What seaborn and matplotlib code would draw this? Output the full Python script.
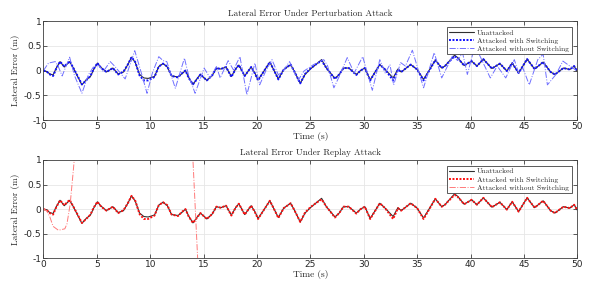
import numpy as np
import pandas as pd
import seaborn as sns
import matplotlib
matplotlib.use("Agg")
import matplotlib.pyplot as plt

# ---------------- data ----------------
t_ref = [0.0, 0.3, 0.6, 0.9, 1.2, 1.55, 1.95, 2.45, 2.8, 3.1, 3.6, 4.0, 4.4, 4.7, 5.05,
         5.4, 5.9, 6.5, 7.0, 7.5, 7.9, 8.25, 8.6, 9.0, 9.4, 9.8, 10.4, 10.8, 11.2, 11.6,
         12.0, 12.6, 13.0, 13.3, 13.6, 14.0, 14.4, 14.7, 15.3, 15.8, 16.2, 16.6, 17.1,
         17.6, 18.0, 18.3, 18.85, 19.45, 19.8, 20.1, 20.6, 21.2, 21.6, 22.0, 22.5, 23.15,
         23.5, 24.05, 24.5, 25.0, 25.5, 26.05, 26.5, 27.3, 27.7, 28.1, 28.6, 29.3, 29.7,
         30.1, 30.6, 31.5, 32.0, 32.75, 33.2, 33.5, 34.4, 35.0, 35.6, 36.7, 37.3, 37.6,
         38.5, 38.8, 39.4, 40.1, 40.6, 41.2, 42.0, 42.75, 43.4, 43.9, 44.5, 45.3, 46.0,
         46.8, 47.5, 47.9, 48.7, 49.3, 49.7, 50.0]
unattacked = [0.0, -0.02, -0.07, -0.09, 0.05, 0.18, 0.07, 0.18, 0.05, -0.08, -0.29, -0.19,
              -0.12, 0.02, 0.15, 0.06, -0.03, 0.05, -0.07, -0.03, 0.12, 0.27, 0.16, -0.08,
              -0.15, -0.16, -0.12, 0.08, 0.14, 0.07, -0.11, -0.13, -0.06, 0.0, -0.14, -0.28,
              -0.16, -0.08, -0.2, -0.1, 0.05, 0.03, 0.07, -0.12, 0.03, 0.11, -0.11, 0.07,
              -0.05, -0.19, -0.03, 0.17, 0.0, -0.17, 0.02, 0.12, -0.02, -0.26, -0.08, 0.03,
              0.12, 0.22, 0.05, -0.16, -0.08, 0.05, 0.05, -0.08, 0.0, 0.05, -0.19, 0.12,
              0.02, -0.15, 0.03, -0.03, 0.12, 0.02, -0.18, 0.21, 0.05, 0.09, 0.31, 0.26,
              0.1, 0.19, 0.09, 0.23, 0.04, 0.14, -0.01, 0.15, -0.05, 0.23, 0.03, 0.17,
              -0.03, -0.08, 0.05, 0.02, 0.09, -0.02]
with_switching = [0.0, -0.02, -0.08, -0.11, 0.04, 0.18, 0.08, 0.19, 0.05, -0.07, -0.28, -0.2,
                  -0.11, 0.03, 0.15, 0.05, -0.03, 0.05, -0.08, -0.02, 0.12, 0.27, 0.17, -0.1,
                  -0.2, -0.2, -0.13, 0.08, 0.14, 0.08, -0.11, -0.14, -0.05, 0.0, -0.15, -0.28,
                  -0.17, -0.08, -0.2, -0.1, 0.05, 0.03, 0.07, -0.13, 0.03, 0.11, -0.11, 0.07,
                  -0.06, -0.2, -0.03, 0.17, 0.0, -0.18, 0.02, 0.12, -0.02, -0.26, -0.07, 0.04,
                  0.12, 0.2, 0.05, -0.17, -0.08, 0.05, 0.05, -0.09, 0.0, 0.05, -0.2, 0.12,
                  0.02, -0.2, 0.02, -0.03, 0.12, 0.02, -0.2, 0.21, 0.05, 0.09, 0.29, 0.25,
                  0.1, 0.19, 0.09, 0.23, 0.04, 0.14, -0.01, 0.15, -0.05, 0.23, 0.03, 0.17,
                  -0.03, -0.08, 0.05, 0.02, 0.09, -0.02]

t_pert = [0.0, 0.47, 1.1, 1.35, 1.75, 2.45, 2.9, 3.6, 4.2, 4.7, 5.2, 5.6, 6.25, 6.7, 7.65,
          8.55, 9.1, 9.7, 10.2, 10.8, 11.2, 11.55, 12.35, 13.2, 13.6, 14.2, 15.05, 15.6,
          16.2, 16.55, 17.3, 17.8, 18.4, 19.05, 19.8, 20.25, 20.8, 21.4, 22.0, 22.5, 23.05,
          23.6, 23.85, 24.4, 25.3, 26.25, 26.6, 27.2, 27.7, 28.45, 29.1, 29.9, 30.8, 31.5,
          32.0, 32.45, 32.8, 33.45, 33.9, 34.55, 35.6, 36.6, 37.3, 38.3, 38.8, 39.25, 39.7,
          40.2, 40.8, 41.85, 42.5, 43.3, 44.1, 44.5, 44.9, 45.5, 46.3, 46.8, 47.2, 48.0,
          48.65, 49.3, 50.0]
pert_no_switch = [0.0, 0.15, 0.18, 0.1, -0.11, 0.27, -0.1, -0.46, -0.09, 0.08, 0.1, -0.02,
                  0.18, 0.08, -0.17, 0.4, 0.0, -0.46, -0.05, 0.28, 0.2, 0.18, -0.36, 0.25,
                  -0.1, -0.46, 0.05, -0.15, 0.08, -0.15, 0.2, 0.01, 0.28, -0.49, 0.15, -0.29,
                  -0.02, 0.22, -0.09, 0.01, 0.18, -0.09, -0.2, -0.01, 0.12, 0.22, 0.1, -0.35,
                  -0.12, 0.26, -0.05, 0.28, -0.4, 0.22, -0.05, 0.12, -0.29, 0.16, 0.09, 0.41,
                  -0.35, 0.36, -0.15, 0.29, 0.2, 0.36, -0.08, 0.33, 0.33, -0.15, 0.09, -0.15,
                  0.22, -0.05, 0.05, -0.29, 0.22, 0.33, -0.29, -0.08, 0.19, 0.09, -0.01]

t_replay = [0.0, 0.3, 0.6, 0.9, 1.4, 2.0, 2.2, 2.5, 2.8, 3.0, 3.3, 3.5,
            13.7, 14.0, 14.44, 14.7]
replay_no_switch = [0.0, -0.03, -0.16, -0.35, -0.43, -0.4, -0.3, 0.1, 0.8, 1.3, 2.0, np.nan,
                    1.8, 1.0, -1.0, -1.6]

xticks = [0, 5, 10, 15, 20, 25, 30, 35, 40, 45, 50]
yticks = [-1, -0.5, 0, 0.5, 1]
ytick_labels = ["-1", "-0.5", "0", "0.5", "1"]
titles = ["Lateral Error Under Perturbation Attack", "Lateral Error Under Replay Attack"]
labels = ["Unattacked", "Attacked with Switching", "Attacked without Switching"]

# ---------------- style ----------------
sns.set_style("whitegrid")
plt.rcParams["font.family"] = ["DejaVu Sans"]
plt.rcParams["axes.unicode_minus"] = False
serif = ["cmr10", "DejaVu Serif"]

fig = plt.figure(figsize=(5.98, 2.91), dpi=100)
ax1 = fig.add_axes([0.0727, 0.5876, 0.8927, 0.3402])
ax2 = fig.add_axes([0.0727, 0.1124, 0.8927, 0.3378])

def style(ax, title):
    ax.set_xlim(0, 50)
    ax.set_ylim(-1, 1)
    ax.set_xticks(xticks)
    ax.set_yticks(yticks)
    ax.set_yticklabels(ytick_labels)
    ax.tick_params(axis="both", labelsize=6.5, direction="in", length=3, width=0.6,
                   colors="#404040", labelcolor="#262626", pad=1.5,
                   top=True, right=True, bottom=True, left=True)
    ax.grid(True, color="#e6e6e6", linewidth=0.6)
    for s in ax.spines.values():
        s.set_visible(True)
        s.set_color("#404040")
        s.set_linewidth(0.6)
    ax.set_title(title, fontsize=6.5, family=serif, pad=3.5)
    ax.set_xlabel("Time (s)", fontsize=6.8, family=serif, labelpad=0.5)
    ax.set_ylabel("Lateral Error (m)", fontsize=6.6, family=serif, labelpad=2.5)

df_ref = pd.DataFrame({"t": t_ref, "un": unattacked, "sw": with_switching})
df_pert = pd.DataFrame({"t": t_pert, "v": pert_no_switch})
df_rep = pd.DataFrame({"t": t_replay, "v": replay_no_switch})

# top panel
sns.lineplot(data=df_ref, x="t", y="un", ax=ax1, color="#303030", lw=0.8,
             label=labels[0], sort=False, estimator=None)
sns.lineplot(data=df_ref, x="t", y="sw", ax=ax1, color="#1010ff", lw=1.4, ls=(0, (1, 0.8)),
             label=labels[1], sort=False, estimator=None)
sns.lineplot(data=df_pert, x="t", y="v", ax=ax1, color="#7070ff", lw=0.7, ls="-.",
             label=labels[2], sort=False, estimator=None)

# bottom panel
sns.lineplot(data=df_ref, x="t", y="un", ax=ax2, color="#303030", lw=0.8,
             label=labels[0], sort=False, estimator=None)
sns.lineplot(data=df_ref, x="t", y="sw", ax=ax2, color="#ff1010", lw=1.4, ls=(0, (1, 0.8)),
             label=labels[1], sort=False, estimator=None)
ax2.plot(df_rep["t"], df_rep["v"], color="#ff7a7a", lw=0.7, ls="-.", label=labels[2])

for ax, title in zip([ax1, ax2], titles):
    style(ax, title)
    leg = ax.legend(loc="upper right", prop={"family": serif, "size": 5.4},
                    fancybox=False, framealpha=1, edgecolor="#404040",
                    handlelength=3.3, handletextpad=0.4, borderpad=0.35,
                    labelspacing=0.25, borderaxespad=0.75)
    leg.get_frame().set_linewidth(0.6)

fig.savefig("out.png", dpi=100)
